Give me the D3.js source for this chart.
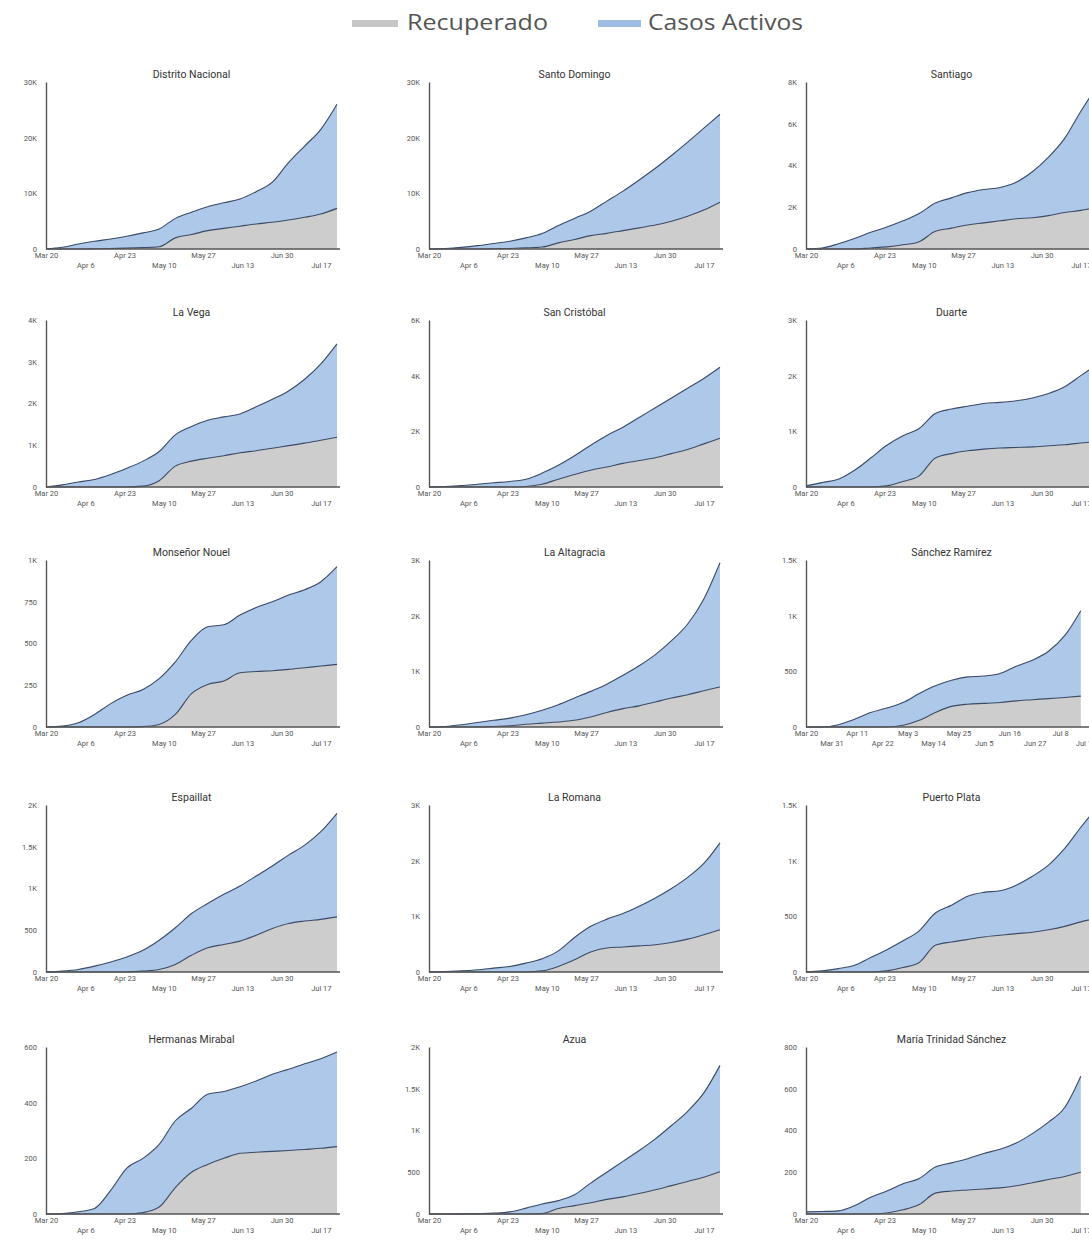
<!DOCTYPE html>
<html>
<head>
<meta charset="utf-8">
<script src="https://cdn.jsdelivr.net/npm/d3@7"></script>
<style>
  body { margin: 0; background: #fff; }
  svg { display: block; }
  text { font-family: Roboto, "Liberation Sans", sans-serif; }
</style>
</head>
<body>
<svg id="chart" width="1089" height="1242"></svg>
<script>
// fechas semanales (acumulados)
const fechas = ["2020-03-20","2020-03-27","2020-04-03","2020-04-10","2020-04-17","2020-04-24","2020-05-01",
  "2020-05-08","2020-05-15","2020-05-22","2020-05-29","2020-06-05","2020-06-12","2020-06-19","2020-06-26",
  "2020-07-03","2020-07-10","2020-07-17","2020-07-24"];

const provincias = ["Distrito Nacional", "Santo Domingo", "Santiago", "La Vega", "San Cristóbal", "Duarte",
  "Monseñor Nouel", "La Altagracia", "Sánchez Ramírez", "Espaillat", "La Romana", "Puerto Plata",
  "Hermanas Mirabal", "Azua", "María Trinidad Sánchez"];

const recuperado = [
  [0,0,0,50,100,150,250,400,2000,2600,3300,3700,4100,4500,4800,5200,5700,6300,7300],
  [0,0,0,0,50,100,200,350,1100,1700,2400,2800,3300,3800,4300,5000,5900,7000,8400],
  [0,0,0,0,50,100,200,350,850,1000,1150,1250,1350,1450,1500,1600,1750,1850,2000],
  [0,0,0,0,0,0,20,150,500,620,690,750,820,870,930,990,1050,1120,1190],
  [0,0,0,0,0,0,20,100,280,450,600,720,850,950,1050,1200,1350,1550,1750],
  [0,0,0,0,0,20,100,200,520,600,650,680,700,710,720,740,760,790,820],
  [0,0,0,0,0,0,2,15,75,200,255,275,325,332,337,345,355,365,375],
  [0,0,0,0,10,20,50,70,90,120,180,260,330,380,450,520,580,650,720],
  [0,0,0,0,0,0,15,60,130,185,205,212,220,235,245,255,265,277,null],
  [0,0,0,0,0,0,10,30,90,200,290,330,370,440,520,580,610,630,660],
  [0,0,0,0,0,0,0,20,100,220,360,430,450,470,490,530,590,670,760],
  [0,0,0,0,0,10,40,85,240,270,292,315,330,345,357,380,410,450,485],
  [0,0,0,0,0,0,5,25,95,150,178,200,218,222,225,228,232,236,242],
  [0,0,0,0,0,0,0,5,65,100,135,175,205,245,290,340,390,440,505],
  [0,0,0,0,0,5,20,45,100,110,115,120,125,135,150,165,180,200,null]
];

const activos = [
  [0,300,900,1350,1700,2150,2650,3200,3500,4000,4300,4600,4900,5800,7200,10300,12800,15200,18700],
  [0,100,300,600,950,1300,1800,2450,3100,3800,4400,5800,7100,8600,10200,11800,13300,14700,15800],
  [0,50,250,500,750,950,1150,1350,1350,1450,1550,1600,1600,1750,2200,2800,3550,4750,5800],
  [0,50,120,180,300,450,600,700,750,830,910,930,930,1050,1170,1310,1530,1830,2240],
  [0,20,50,100,150,200,260,400,500,670,900,1130,1300,1550,1800,2000,2200,2350,2550],
  [20,80,140,300,520,730,820,850,800,800,800,820,820,840,880,940,1040,1210,1380],
  [0,5,25,75,140,190,223,275,315,320,345,337,345,383,413,445,467,505,585],
  [0,10,40,80,110,140,170,230,310,400,460,510,600,720,850,1030,1270,1650,2230],
  [0,0,20,70,130,170,205,240,240,235,245,246,260,310,355,425,555,768,null],
  [0,10,30,70,120,180,250,350,440,500,530,600,660,710,750,820,910,1050,1240],
  [0,10,20,40,70,100,160,220,280,400,460,520,600,710,840,970,1110,1280,1560],
  [0,10,30,60,130,190,240,285,290,330,388,400,400,435,503,580,700,850,995],
  [0,2,8,20,85,165,195,225,240,230,252,240,239,256,277,292,308,322,340],
  [0,0,2,5,10,25,70,115,95,130,235,325,425,515,610,720,840,1010,1275],
  [10,12,15,40,80,105,125,125,125,135,150,170,185,205,235,275,330,460,null]
];

const yTicks = [
  [0,10000,20000,30000], [0,10000,20000,30000], [0,2000,4000,6000,8000],
  [0,1000,2000,3000,4000], [0,2000,4000,6000], [0,1000,2000,3000],
  [0,250,500,750,1000], [0,1000,2000,3000], [0,500,1000,1500],
  [0,500,1000,1500,2000], [0,1000,2000,3000], [0,500,1000,1500],
  [0,200,400,600], [0,500,1000,1500,2000], [0,200,400,600,800]
];

const xTicks = ["2020-03-20","2020-04-06","2020-04-23","2020-05-10","2020-05-27","2020-06-13","2020-06-30","2020-07-17"];
const xTicksSR = ["2020-03-20","2020-03-31","2020-04-11","2020-04-22","2020-05-03","2020-05-14","2020-05-25",
  "2020-06-05","2020-06-16","2020-06-27","2020-07-08","2020-07-19"];

const leyenda = ["Recuperado", "Casos Activos"];

const COL_REC = '#cdcdcd';
const COL_ACT = '#aec8e9';
const COL_LINE = '#3a4a66';

const parse = d3.timeParse('%Y-%m-%d');
const fmtDate = d3.timeFormat('%b %-d');
const fmtY = v => v >= 1000 ? (v / 1000) + 'K' : String(v);

const svg = d3.select('#chart');

// leyenda
const legX = [352, 598];
const legW = [141, 155];
leyenda.forEach((name, i) => {
    const g = svg.append('g').attr('transform', `translate(${legX[i]},0)`);
    g.append('rect').attr('x', 0).attr('y', 20).attr('width', i === 0 ? 46 : 43).attr('height', 7)
        .attr('fill', i === 0 ? '#c6c6c6' : '#9fbde3');
    g.append('text').attr('x', i === 0 ? 55 : 50).attr('y', 30)
        .attr('font-size', 22).attr('fill', '#555')
        .attr('textLength', legW[i]).attr('lengthAdjust', 'spacingAndGlyphs')
        .style('font-family', '"Open Sans", sans-serif')
        .text(name);
});

const colX = [46, 429, 806];
const rowTop = [82, 320, 560, 805, 1047];
const plotW = 291;
const plotH = 167;

const x = d3.scaleTime().domain([parse('2020-03-20'), parse('2020-07-24')]).range([0, plotW]);

provincias.forEach((name, i) => {
    const col = i % 3, row = Math.floor(i / 3);
    const g = svg.append('g').attr('transform', `translate(${colX[col]},${rowTop[row]})`);
    const ticks = yTicks[i];
    const y = d3.scaleLinear().domain([0, d3.max(ticks)]).range([plotH, 0]);

    const data = fechas.map((f, j) => ({
        date: parse(f),
        rec: recuperado[i][j],
        act: activos[i][j]
    }));
    const ok = d => d.rec != null && d.act != null;

    const areaRec = d3.area().defined(ok).curve(d3.curveMonotoneX)
        .x(d => x(d.date)).y0(y(0)).y1(d => y(d.rec));
    const areaAct = d3.area().defined(ok).curve(d3.curveMonotoneX)
        .x(d => x(d.date)).y0(d => y(d.rec)).y1(d => y(d.rec + d.act));
    const lineRec = d3.line().defined(ok).curve(d3.curveMonotoneX)
        .x(d => x(d.date)).y(d => y(d.rec));
    const lineTot = d3.line().defined(ok).curve(d3.curveMonotoneX)
        .x(d => x(d.date)).y(d => y(d.rec + d.act));

    g.append('path').datum(data).attr('d', areaAct).attr('fill', COL_ACT);
    g.append('path').datum(data).attr('d', areaRec).attr('fill', COL_REC);
    g.append('path').datum(data).attr('d', lineTot).attr('fill', 'none')
        .attr('stroke', COL_LINE).attr('stroke-width', 1.1);
    g.append('path').datum(data).attr('d', lineRec).attr('fill', 'none')
        .attr('stroke', COL_LINE).attr('stroke-width', 1.1);

    // eje y
    const ya = g.append('g').call(d3.axisLeft(y).tickValues(ticks).tickFormat(fmtY)
        .tickSize(0).tickSizeOuter(0).tickPadding(9));
    ya.select('.domain').attr('stroke', '#555').attr('stroke-width', 1.4);
    ya.selectAll('text').attr('font-size', 7.5).attr('fill', '#555').style('font-family', null);

    // eje x
    const xt = (name === 'Sánchez Ramírez' ? xTicksSR : xTicks).map(parse);
    const xa = g.append('g').attr('transform', `translate(0,${plotH})`)
        .call(d3.axisBottom(x).tickValues(xt).tickFormat(fmtDate)
            .tickSize(0).tickSizeOuter(0).tickPadding(4));
    xa.select('.domain').attr('stroke', '#555').attr('stroke-width', 1.4)
        .attr('d', `M0,0H${plotW + 3}`);
    xa.selectAll('text').attr('font-size', 7.5).attr('fill', '#555').style('font-family', null)
        .attr('dy', (d, k) => k % 2 ? '1.95em' : '0.71em');

    // título
    g.append('text').attr('x', plotW / 2).attr('y', -4)
        .attr('text-anchor', 'middle').attr('font-size', 10.5).attr('fill', '#333')
        .text(name);
});
</script>
</body>
</html>
